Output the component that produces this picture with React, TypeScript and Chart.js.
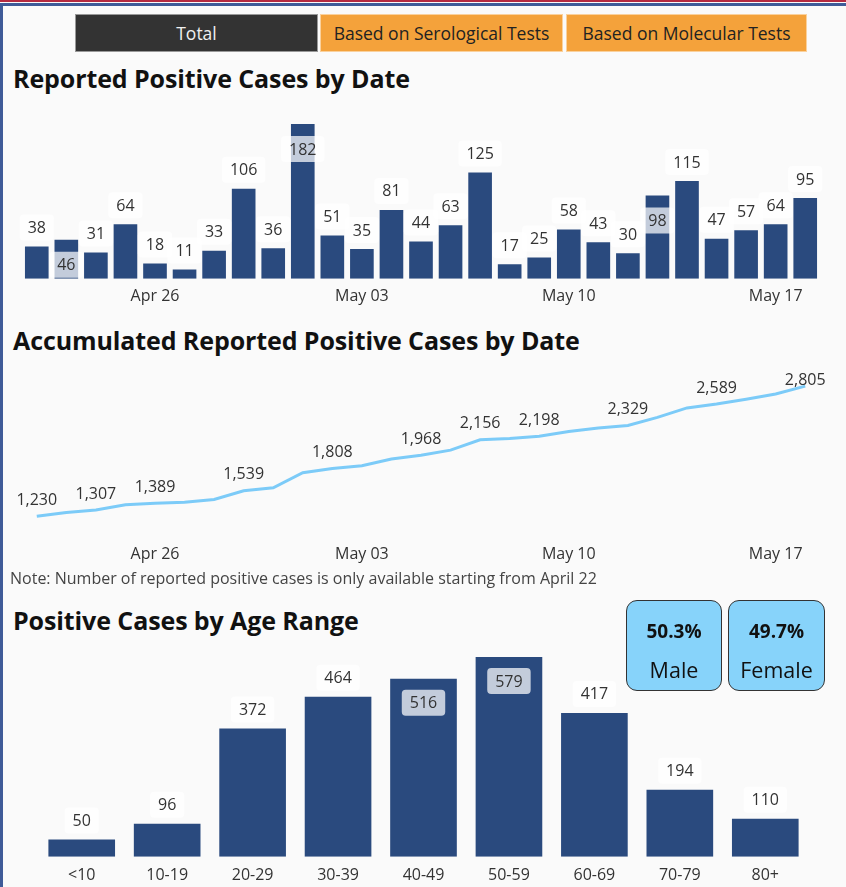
import React, { useEffect, useRef } from "react";
import { Chart, registerables } from "chart.js";

Chart.register(...registerables);

const FONT = "'Open Sans', 'Noto Sans', sans-serif";

const dates = [
  "Apr 22", "Apr 23", "Apr 24", "Apr 25", "Apr 26", "Apr 27", "Apr 28", "Apr 29", "Apr 30",
  "May 01", "May 02", "May 03", "May 04", "May 05", "May 06", "May 07", "May 08", "May 09",
  "May 10", "May 11", "May 12", "May 13", "May 14", "May 15", "May 16", "May 17", "May 18",
];
const tickLabels = ["Apr 26", "May 03", "May 10", "May 17"];
const dailyCases = [38, 46, 31, 64, 18, 11, 33, 106, 36, 182, 51, 35, 81, 44, 63, 125, 17, 25, 58, 43, 30, 98, 115, 47, 57, 64, 95];
const dailyInsideLabels = [1, 9, 21];
const accumulatedCases = [1230, 1276, 1307, 1371, 1389, 1400, 1433, 1539, 1575, 1757, 1808, 1843, 1924, 1968, 2031, 2156, 2173, 2198, 2256, 2299, 2329, 2427, 2542, 2589, 2646, 2710, 2805];
const accumulatedLabeled = [0, 2, 4, 7, 10, 13, 15, 17, 20, 23, 26];
const ageRanges = ["<10", "10-19", "20-29", "30-39", "40-49", "50-59", "60-69", "70-79", "80+"];
const ageCases = [50, 96, 372, 464, 516, 579, 417, 194, 110];
const ageInsideLabels = [4, 5];
const genderShares = ["50.3%", "49.7%"];
const genderNames = ["Male", "Female"];
const tabs = ["Total", "Based on Serological Tests", "Based on Molecular Tests"];

const BAR = "#2a4a7e";
const LINE = "#7ccbf8";

type LabelOpts = {
  inside?: number[];
  only?: number[];
  box: boolean;
  above: number;
  below: number;
  clampTop?: number;
  fmt: (v: number) => string;
};

function valueLabels(opts: LabelOpts) {
  return {
    id: "valueLabels",
    afterDatasetsDraw(chart: any) {
      const ctx = chart.ctx as CanvasRenderingContext2D;
      const meta = chart.getDatasetMeta(0);
      const data = chart.data.datasets[0].data as number[];
      ctx.save();
      ctx.font = `16px ${FONT}`;
      ctx.textAlign = "center";
      ctx.textBaseline = "middle";
      meta.data.forEach((el: any, i: number) => {
        if (opts.only && !opts.only.includes(i)) return;
        const text = opts.fmt(data[i]);
        const inside = opts.inside ? opts.inside.includes(i) : false;
        let y = inside ? el.y + opts.below : el.y - opts.above;
        if (opts.clampTop !== undefined) y = Math.max(y, chart.chartArea.top + opts.clampTop);
        const w = ctx.measureText(text).width + 16;
        if (opts.box) {
          ctx.fillStyle = "rgba(255,255,255,0.72)";
          ctx.beginPath();
          (ctx as any).roundRect(el.x - w / 2, y - 13, w, 26, 4);
          ctx.fill();
        }
        ctx.fillStyle = "#333";
        ctx.fillText(text, el.x, y + 1);
      });
      ctx.restore();
    },
  };
}

function useChart(make: (c: HTMLCanvasElement) => Chart) {
  const ref = useRef<HTMLCanvasElement | null>(null);
  useEffect(() => {
    if (!ref.current) return;
    const ch = make(ref.current);
    return () => ch.destroy();
  }, []);
  return ref;
}

const xAxis = (labels: string[] | null, padding: number, offset = true) => ({
  offset,
  grid: { display: false, drawTicks: false },
  border: { display: false },
  ticks: {
    autoSkip: false,
    maxRotation: 0,
    padding,
    color: "#333",
    font: { size: 16, family: FONT },
    callback: function (this: any, _v: any, i: number) {
      const l = this.getLabelForValue(i);
      if (!labels) return l;
      return labels.includes(l) ? l : "";
    },
  },
});

function DailyChart() {
  const ref = useChart(
    (c) =>
      new Chart(c, {
        type: "bar",
        data: {
          labels: dates,
          datasets: [{ data: dailyCases, backgroundColor: BAR, barPercentage: 0.8, categoryPercentage: 1 }],
        },
        options: {
          animation: false,
          responsive: false,
          layout: { padding: { left: 22, right: 26, top: 24, bottom: 7 } },
          plugins: { legend: { display: false }, tooltip: { enabled: false } },
          scales: {
            x: xAxis(tickLabels, 8) as any,
            y: { display: false, min: 0, max: 182 },
          },
        },
        plugins: [
          valueLabels({ inside: dailyInsideLabels, box: true, above: 19, below: 25, fmt: (v) => String(v) }),
        ],
      })
  );
  return <canvas ref={ref} width={846} height={221} style={{ position: "absolute", left: 0, top: 100 }} />;
}

function AccumulatedChart() {
  const ref = useChart(
    (c) =>
      new Chart(c, {
        type: "line",
        data: {
          labels: dates,
          datasets: [
            {
              data: accumulatedCases,
              borderColor: LINE,
              borderWidth: 3,
              pointRadius: 0,
              tension: 0,
              fill: false,
            },
          ],
        },
        options: {
          animation: false,
          responsive: false,
          layout: { padding: { left: 22, right: 26, top: 20, bottom: 8 } },
          plugins: { legend: { display: false }, tooltip: { enabled: false } },
          scales: {
            x: xAxis(tickLabels, 7) as any,
            y: { display: false, min: 970, max: 2940 },
          },
        },
        plugins: [
          valueLabels({
            only: accumulatedLabeled,
            box: false,
            above: 17,
            below: 0,
            clampTop: 4,
            fmt: (v) => v.toLocaleString("en-US"),
          }),
        ],
      })
  );
  return <canvas ref={ref} width={846} height={224} style={{ position: "absolute", left: 0, top: 355 }} />;
}

function AgeChart() {
  const ref = useChart(
    (c) =>
      new Chart(c, {
        type: "bar",
        data: {
          labels: ageRanges,
          datasets: [{ data: ageCases, backgroundColor: BAR, barPercentage: 0.78, categoryPercentage: 1 }],
        },
        options: {
          animation: false,
          responsive: false,
          layout: { padding: { left: 39, right: 38, top: 17, bottom: 5 } },
          plugins: { legend: { display: false }, tooltip: { enabled: false } },
          scales: {
            x: xAxis(null, 9) as any,
            y: { display: false, min: 0, max: 579 },
          },
        },
        plugins: [
          valueLabels({ inside: ageInsideLabels, box: true, above: 19, below: 24, fmt: (v) => String(v) }),
        ],
      })
  );
  return <canvas ref={ref} width={846} height={259} style={{ position: "absolute", left: 0, top: 640 }} />;
}

const titleStyle = (top: number): React.CSSProperties => ({
  position: "absolute",
  left: 13,
  top,
  height: 30,
  lineHeight: "30px",
  fontFamily: FONT,
  fontWeight: 700,
  fontSize: 25,
  letterSpacing: -0.1,
  color: "#111",
  whiteSpace: "nowrap",
});

export default function App() {
  const tabBoxes = [
    { left: 75, width: 243, bg: "#333333", color: "#f0f0f0" },
    { left: 320, width: 243, bg: "#f4a23b", color: "#222" },
    { left: 566, width: 241, bg: "#f4a23b", color: "#222" },
  ];
  return (
    <div
      style={{
        position: "fixed",
        left: 0,
        top: 0,
        width: 846,
        height: 887,
        background: "#fafafa",
        overflow: "hidden",
        fontFamily: FONT,
      }}
    >
      <div style={{ position: "absolute", left: 0, top: 0, width: 846, height: 2, background: "#b52a40" }} />
      <div style={{ position: "absolute", left: 0, top: 3, width: 846, height: 3, background: "#3f5b98" }} />
      <div style={{ position: "absolute", left: 0, top: 3, width: 3, height: 884, background: "#3f5b98" }} />

      {tabs.map((t, i) => (
        <div
          key={t}
          style={{
            position: "absolute",
            left: tabBoxes[i].left,
            top: 14,
            width: tabBoxes[i].width,
            height: 38,
            background: tabBoxes[i].bg,
            color: tabBoxes[i].color,
            boxSizing: "border-box",
            border: "1px solid rgba(255,255,255,0.5)",
            fontSize: 17.5,
            lineHeight: "36px",
            textAlign: "center",
            whiteSpace: "nowrap",
          }}
        >
          {t}
        </div>
      ))}

      <div style={titleStyle(63)}>Reported Positive Cases by Date</div>
      <DailyChart />
      <div style={titleStyle(325)}>Accumulated Reported Positive Cases by Date</div>
      <AccumulatedChart />
      <div
        style={{
          position: "absolute",
          left: 10,
          top: 568,
          lineHeight: "20px",
          fontSize: 16,
          color: "#444",
          whiteSpace: "nowrap",
        }}
      >
        Note: Number of reported positive cases is only available starting from April 22
      </div>
      <div style={titleStyle(605)}>Positive Cases by Age Range</div>
      <AgeChart />

      {genderNames.map((g, i) => (
        <div
          key={g}
          style={{
            position: "absolute",
            left: i === 0 ? 626 : 728,
            top: 600,
            width: i === 0 ? 96 : 97,
            height: 91,
            boxSizing: "border-box",
            border: "1.5px solid #333",
            borderRadius: 11,
            background: "#87d3fa",
            color: "#111",
            textAlign: "center",
          }}
        >
          <div style={{ position: "absolute", left: 0, right: 0, top: 18, fontWeight: 700, fontSize: 19, lineHeight: "24px" }}>
            {genderShares[i]}
          </div>
          <div style={{ position: "absolute", left: 0, right: 0, top: 55, fontSize: 21.5, lineHeight: "28px" }}>{g}</div>
        </div>
      ))}
    </div>
  );
}
